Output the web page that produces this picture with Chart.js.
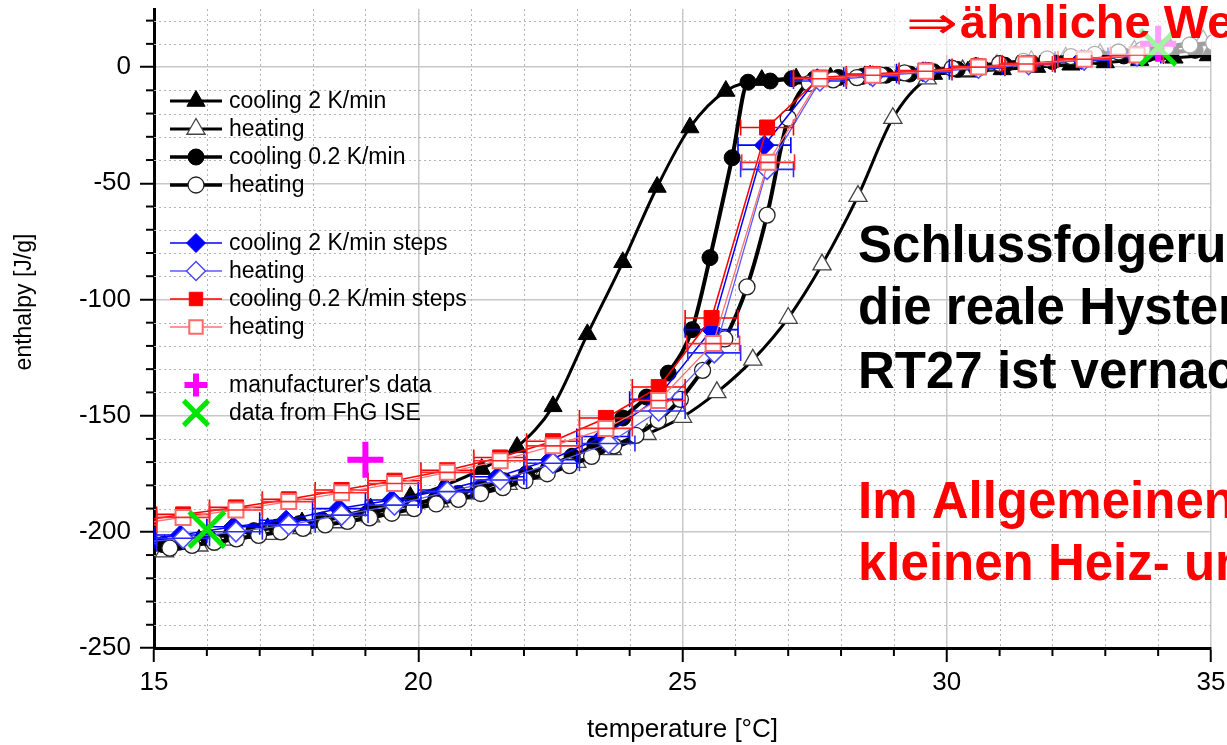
<!DOCTYPE html>
<html><head><meta charset="utf-8">
<script src="https://cdn.jsdelivr.net/npm/chart.js@4/dist/chart.umd.min.js"></script>
<style>html,body{margin:0;padding:0;background:#fff;overflow:hidden}canvas{display:block}</style>
</head><body>
<canvas id="c" width="1227" height="745"></canvas>
<script>
// ---------- data ----------
const cool2_T = [15.2,15.85,16.5,17.15,17.8,18.45,19.1,19.85,20.5,21.2,21.87,22.55,23.2,23.87,24.52,25.14,25.82,26.5,27.15,27.8,28.45,29.1,29.75,30.4,31.05,31.7,32.35,33.0,33.65,34.3,34.95];
const cool2_H = [-206,-203.5,-201,-198.5,-196,-193.5,-190,-185,-180,-173,-163.5,-146,-115,-84,-51.6,-26,-10.3,-5.6,-5,-4.5,-4,-3.5,-3,-2,-1,0,1,2,3,4,5];

const heat2_T = [15.2,15.85,16.5,17.15,17.8,18.45,19.1,19.75,20.4,21.05,21.7,22.35,23.0,23.67,24.33,25.0,25.65,26.33,27.0,27.64,28.32,28.98,29.63,30.3,30.95,31.6,32.25,32.9,33.55,34.2,34.85];
const heat2_H = [-208.5,-206,-203.5,-201,-198.5,-196,-193.5,-190.5,-187,-183.5,-179.5,-175,-170,-164.5,-158,-150.6,-140,-126,-108,-85,-55.5,-22,-5,-1.5,1,2.5,4,5.5,7,9,11.5];

const cool02_T = [15.17,15.6,16.03,16.46,16.89,17.32,17.75,18.18,18.61,19.04,19.47,19.9,20.33,20.76,21.19,21.62,22.05,22.48,22.91,23.34,23.87,24.32,24.73,25.18,25.52,25.94,26.24,26.66,27.07,27.5,27.95,28.4,28.85,29.3,29.75,30.2,30.65,31.1,31.55,32.0,32.45,32.9,33.35,33.8,34.25,34.7];
const cool02_H = [-205.5,-204,-202.5,-201,-199.5,-198,-196.5,-195,-193.5,-192,-190,-188,-186,-183.5,-181,-178,-175,-171.5,-167.5,-162.5,-151,-142,-131.7,-113,-82,-39,-6.5,-6,-5,-5,-4.5,-4,-3.5,-3,-2,-1,0,0.8,1.6,2.4,3.2,4,4.8,5.6,6.4,7.2];

const heat02_T = [15.3,15.72,16.14,16.56,16.98,17.4,17.82,18.24,18.66,19.08,19.5,19.92,20.34,20.76,21.18,21.6,22.02,22.44,22.86,23.28,23.7,24.12,24.54,24.96,25.38,25.8,26.22,26.6,27.0,27.4,27.85,28.3,28.75,29.2,29.65,30.1,30.55,31.0,31.45,31.9,32.35,32.8,33.25,33.7,34.15,34.6,35.05];
const heat02_H = [-207,-205.8,-204.5,-203,-201.5,-200,-198.5,-197,-195.5,-194,-192,-190,-188,-186,-183.5,-181,-178,-175,-171.5,-167.5,-163,-158.5,-152,-143,-130.5,-117,-94.6,-63.7,-22,-7,-5.5,-4.5,-3.5,-2.5,-1.5,-0.5,0.5,1.5,2.5,3.5,4.5,5.5,6.5,7.5,8.5,9.5,10.5];

const cool2s_T = [14.5,15.5,16.5,17.5,18.5,19.5,20.5,21.5,22.5,23.5,24.5,25.55,26.55,27.55,28.55,29.55,30.55,31.55,32.55,33.55];
const cool2s_H = [-204,-201.4,-197.8,-195,-190,-186.3,-182,-176.3,-169,-159,-143,-113,-33.6,-5,-3.5,-2,0,1.3,3.3,5];

const heat2s_T = [14.55,15.55,16.55,17.55,18.55,19.55,20.55,21.55,22.55,23.6,24.55,25.6,26.6,27.6,28.6,29.6,30.6,31.55,32.6,33.6];
const heat2s_H = [-205,-202.8,-200,-197,-192.8,-188.5,-182.7,-177.7,-170.5,-162,-148,-123,-44,-6,-4,-2.3,-0.5,1,3,4.8];

const cool02s_T = [14.55,15.55,16.55,17.55,18.55,19.55,20.55,21.55,22.55,23.55,24.55,25.55,26.6,27.6,28.6,29.6,30.6,31.55,32.6,33.6];
const cool02s_H = [-196,-192.5,-189.5,-186,-182,-178,-173.5,-168,-161,-151,-137.7,-108,-26,-4.5,-3,-1.5,0.3,1.6,3.6,5.4];

const heat02s_T = [14.55,15.55,16.55,17.55,18.55,19.55,20.55,21.55,22.55,23.55,24.55,25.58,26.62,27.6,28.6,29.6,30.6,31.5,32.6,33.6];
const heat02s_H = [-197,-193.8,-190.6,-187,-183.2,-179.2,-174.4,-169.4,-163,-155.5,-143.5,-119,-41,-5,-3.5,-1.8,0,1.3,3.4,5.2];

const stepErrT = 0.5; // horizontal error of the step measurements [K]

const mfr_T = [19.0, 34.0];
const mfr_H = [-169, 10];
const ise_T = [16.0, 34.0];
const ise_H = [-199, 8.5];

const seriesLabels = ['cooling 2 K/min','heating','cooling 0.2 K/min','heating','cooling 2 K/min steps','heating','cooling 0.2 K/min steps','heating',"manufacturer's data",'data from FhG ISE'];

const xMajorTicks = [15,20,25,30,35];
const xMinorTicks = [16,17,18,19,21,22,23,24,26,27,28,29,31,32,33,34];
const yMajorTicks = [-250,-200,-150,-100,-50,0];
const yMinorTicks = [-240,-230,-220,-210,-190,-180,-170,-160,-140,-130,-120,-110,-90,-80,-70,-60,-40,-30,-20,-10,10,20];

const xTitle = 'temperature [°C]';
const yTitle = 'enthalpy [J/g]';
const arrowText = '⇒';
const topNote = 'ähnliche Werte';
const blackNote = ['Schlussfolgerung:', 'die reale Hysterese von', 'RT27 ist vernachlässigbar'];
const redNote = ['Im Allgemeinen bei', 'kleinen Heiz- und Kühlraten'];

// ---------- helpers ----------
const pts = (xs, ys) => xs.map((x, i) => ({x: x, y: ys[i]}));
const FONT = '"Liberation Sans", Arial, sans-serif';

function lineDs(label, xs, ys, o) {
  return Object.assign({
    label: label, data: pts(xs, ys), showLine: true, fill: false,
    pointHoverRadius: o.pointRadius
  }, o);
}

const datasets = [
  lineDs(seriesLabels[0], cool2_T, cool2_H, {borderColor:'#000', borderWidth:3, pointStyle:'triangle', pointRadius:10.5, pointBackgroundColor:'#000', pointBorderColor:'#000', pointBorderWidth:1, cubicInterpolationMode:'monotone', order:9, legendRadius:10.5}),
  lineDs(seriesLabels[1], heat2_T, heat2_H, {borderColor:'#000', borderWidth:3, pointStyle:'triangle', pointRadius:10.5, pointBackgroundColor:'#fff', pointBorderColor:'#444', pointBorderWidth:1.3, cubicInterpolationMode:'monotone', order:8, legendRadius:10.5}),
  lineDs(seriesLabels[2], cool02_T, cool02_H, {borderColor:'#000', borderWidth:4, pointStyle:'circle', pointRadius:8, pointBackgroundColor:'#000', pointBorderColor:'#000', pointBorderWidth:1, cubicInterpolationMode:'monotone', order:7}),
  lineDs(seriesLabels[3], heat02_T, heat02_H, {borderColor:'#000', borderWidth:4, pointStyle:'circle', pointRadius:8, pointBackgroundColor:'#fff', pointBorderColor:'#222', pointBorderWidth:1.3, cubicInterpolationMode:'monotone', order:6}),
  lineDs(seriesLabels[4], cool2s_T, cool2s_H, {borderColor:'#0000ff', borderWidth:1.5, pointStyle:'rectRot', pointRadius:10, pointBackgroundColor:'#0000ff', pointBorderColor:'#0000ff', pointBorderWidth:1, errX: stepErrT, errColor:'#0000ff', order:5}),
  lineDs(seriesLabels[5], heat2s_T, heat2s_H, {borderColor:'#5a5aff', borderWidth:1.3, pointStyle:'rectRot', pointRadius:10, pointBackgroundColor:'#fff', pointBorderColor:'#4a4aff', pointBorderWidth:1.5, errX: stepErrT, errColor:'#2a2aff', order:4}),
  lineDs(seriesLabels[6], cool02s_T, cool02s_H, {borderColor:'#ff0000', borderWidth:1.5, pointStyle:'rect', pointRadius:10.6, pointBackgroundColor:'#ff0000', pointBorderColor:'#ff0000', pointBorderWidth:1, errX: stepErrT, errColor:'#ff0000', order:3}),
  lineDs(seriesLabels[7], heat02s_T, heat02s_H, {borderColor:'#ff7070', borderWidth:1.3, pointStyle:'rect', pointRadius:10.6, pointBackgroundColor:'#fff', pointBorderColor:'#ff6a6a', pointBorderWidth:2, errX: stepErrT, errColor:'#ff2a2a', order:2}),
  {label: seriesLabels[8], data: pts(mfr_T, mfr_H), showLine:false, pointStyle:'cross', pointRadius:18, pointBorderColor:'#ff00ff', pointBackgroundColor:'#ff00ff', pointBorderWidth:6, order:1, legendRadius:11.5},
  {label: seriesLabels[9], data: pts(ise_T, ise_H), showLine:false, pointStyle:'crossRot', pointRadius:25, pointBorderColor:'#00e600', pointBackgroundColor:'#00e600', pointBorderWidth:5, order:0, legendRadius:17.5}
];

// ---------- plugins ----------
const minorGrid = {
  id: 'minorGrid',
  beforeDatasetsDraw(chart) {
    const {ctx, chartArea: a, scales: {x, y}} = chart;
    ctx.save();
    ctx.strokeStyle = '#b4b4b4';
    ctx.lineWidth = 1;
    ctx.setLineDash([2, 3]);
    xMinorTicks.forEach(v => { const px = Math.round(x.getPixelForValue(v)) + 0.5; ctx.beginPath(); ctx.moveTo(px, a.top); ctx.lineTo(px, a.bottom); ctx.stroke(); });
    yMinorTicks.forEach(v => { const py = Math.round(y.getPixelForValue(v)) + 0.5; ctx.beginPath(); ctx.moveTo(a.left, py); ctx.lineTo(a.right, py); ctx.stroke(); });
    ctx.setLineDash([]);
    ctx.strokeStyle = '#000';
    ctx.lineWidth = 2;
    xMinorTicks.forEach(v => { const px = x.getPixelForValue(v); ctx.beginPath(); ctx.moveTo(px, a.bottom); ctx.lineTo(px, a.bottom + 8); ctx.stroke(); });
    yMinorTicks.forEach(v => { const py = y.getPixelForValue(v); ctx.beginPath(); ctx.moveTo(a.left, py); ctx.lineTo(a.left - 8, py); ctx.stroke(); });
    ctx.restore();
  }
};

const errorBars = {
  id: 'errorBars',
  afterDatasetDraw(chart, args) {
    const ds = chart.data.datasets[args.index];
    if (!ds.errX) return;
    const {ctx, chartArea: a, scales: {x, y}} = chart;
    ctx.save();
    ctx.beginPath(); ctx.rect(a.left, a.top, a.right - a.left, a.bottom - a.top); ctx.clip();
    ctx.strokeStyle = ds.errColor; ctx.lineWidth = 1.6;
    ds.data.forEach(p => {
      const x1 = x.getPixelForValue(p.x - ds.errX), x2 = x.getPixelForValue(p.x + ds.errX), py = y.getPixelForValue(p.y);
      ctx.beginPath();
      ctx.moveTo(x1, py); ctx.lineTo(x2, py);
      ctx.moveTo(x1, py - 8); ctx.lineTo(x1, py + 8);
      ctx.moveTo(x2, py - 8); ctx.lineTo(x2, py + 8);
      ctx.stroke();
    });
    ctx.restore();
  }
};

function marker(ctx, ds, cx, cy, r) {
  ctx.fillStyle = ds.pointBackgroundColor;
  ctx.strokeStyle = ds.pointBorderColor;
  ctx.lineWidth = ds.pointBorderWidth;
  Chart.helpers.drawPoint(ctx, {pointStyle: ds.pointStyle, radius: r, rotation: 0, borderWidth: ds.pointBorderWidth}, cx, cy);
}

const legendRowsY = [101,129,157,185,243,271,299,327,385,413];
const legendBox = {
  id: 'legendBox',
  afterDatasetsDraw(chart) {
    const ctx = chart.ctx;
    ctx.save();
    chart.data.datasets.forEach((ds, i) => {
      const yy = legendRowsY[i];
      if (ds.showLine) {
        ctx.strokeStyle = ds.borderColor; ctx.lineWidth = Math.min(ds.borderWidth, 3.5);
        ctx.beginPath(); ctx.moveTo(170, yy); ctx.lineTo(222, yy); ctx.stroke();
      }
      marker(ctx, ds, 196, yy, ds.legendRadius || Math.min(ds.pointRadius, 9.5));
      ctx.fillStyle = '#000';
      ctx.font = '23px ' + FONT;
      ctx.textBaseline = 'middle'; ctx.textAlign = 'left';
      ctx.fillText(ds.label, 229, yy + 1);
    });
    ctx.restore();
  }
};

const notes = {
  id: 'notes',
  afterDatasetsDraw(chart) {
    const ctx = chart.ctx;
    ctx.save();
    ctx.fillStyle = 'rgba(255,255,255,0.62)';
    ctx.fillRect(890, 0, 337, 55);
    ctx.textBaseline = 'alphabetic'; ctx.textAlign = 'left';
    ctx.fillStyle = '#ff0000';
    ctx.font = '44px "DejaVu Sans", sans-serif';
    const aw = ctx.measureText(arrowText).width;
    ctx.save(); ctx.translate(906, 38); ctx.scale(52 / aw, 1); ctx.fillText(arrowText, 0, 0); ctx.restore();
    ctx.font = 'bold 47px ' + FONT;
    ctx.fillText(topNote, 960, 38);
    ctx.fillStyle = '#000';
    ctx.font = 'bold 51px ' + FONT;
    [262, 324, 388].forEach((b, i) => ctx.fillText(blackNote[i], 858, b));
    ctx.fillStyle = '#ff0000';
    [518, 580].forEach((b, i) => ctx.fillText(redNote[i], 858, b));
    // y-axis title
    ctx.save();
    ctx.translate(25, 302); ctx.rotate(-Math.PI / 2);
    ctx.fillStyle = '#000'; ctx.font = '23px ' + FONT;
    ctx.textAlign = 'center'; ctx.textBaseline = 'middle';
    ctx.fillText(yTitle, 0, 0);
    ctx.restore();
    ctx.restore();
  }
};

const zeroPad = () => ({left: 0, top: 0, right: 0, bottom: 0});
const noPad = s => { s.paddingTop = 0; s.paddingBottom = 0; s.paddingLeft = 0; s.paddingRight = 0; s.getPadding = zeroPad; };

new Chart(document.getElementById('c'), {
  type: 'scatter',
  data: {datasets: datasets},
  options: {
    responsive: false, animation: false, devicePixelRatio: 1, events: [],
    layout: {autoPadding: false, padding: {top: 9, right: 16, left: 0, bottom: 0}},
    plugins: {legend: {display: false}, tooltip: {enabled: false}},
    scales: {
      x: {
        type: 'linear', min: 15, max: 35,
        afterBuildTicks: s => { s.ticks = xMajorTicks.map(v => ({value: v})); },
        afterFit: s => { s.height = 97; noPad(s); },
        ticks: {color: '#000', font: {size: 26, family: FONT}, padding: 5, maxRotation: 0, autoSkip: false},
        grid: {color: '#c8c8c8', lineWidth: 1.5, tickLength: 14, tickWidth: 2, tickColor: '#000'},
        border: {color: '#000', width: 3},
        title: {display: true, text: xTitle, color: '#000', font: {size: 26, family: FONT}, padding: {top: 0, bottom: 0}}
      },
      y: {
        type: 'linear', min: -250, max: 25,
        afterBuildTicks: s => { s.ticks = yMajorTicks.map(v => ({value: v})); },
        afterFit: s => { s.width = 154; noPad(s); },
        ticks: {color: '#000', font: {size: 26, family: FONT}, padding: 9},
        grid: {color: '#c8c8c8', lineWidth: 1.5, tickLength: 14, tickWidth: 2, tickColor: '#000'},
        border: {color: '#000', width: 3},
        title: {display: false, text: yTitle}
      }
    }
  },
  plugins: [minorGrid, errorBars, legendBox, notes]
});
</script>
</body></html>
